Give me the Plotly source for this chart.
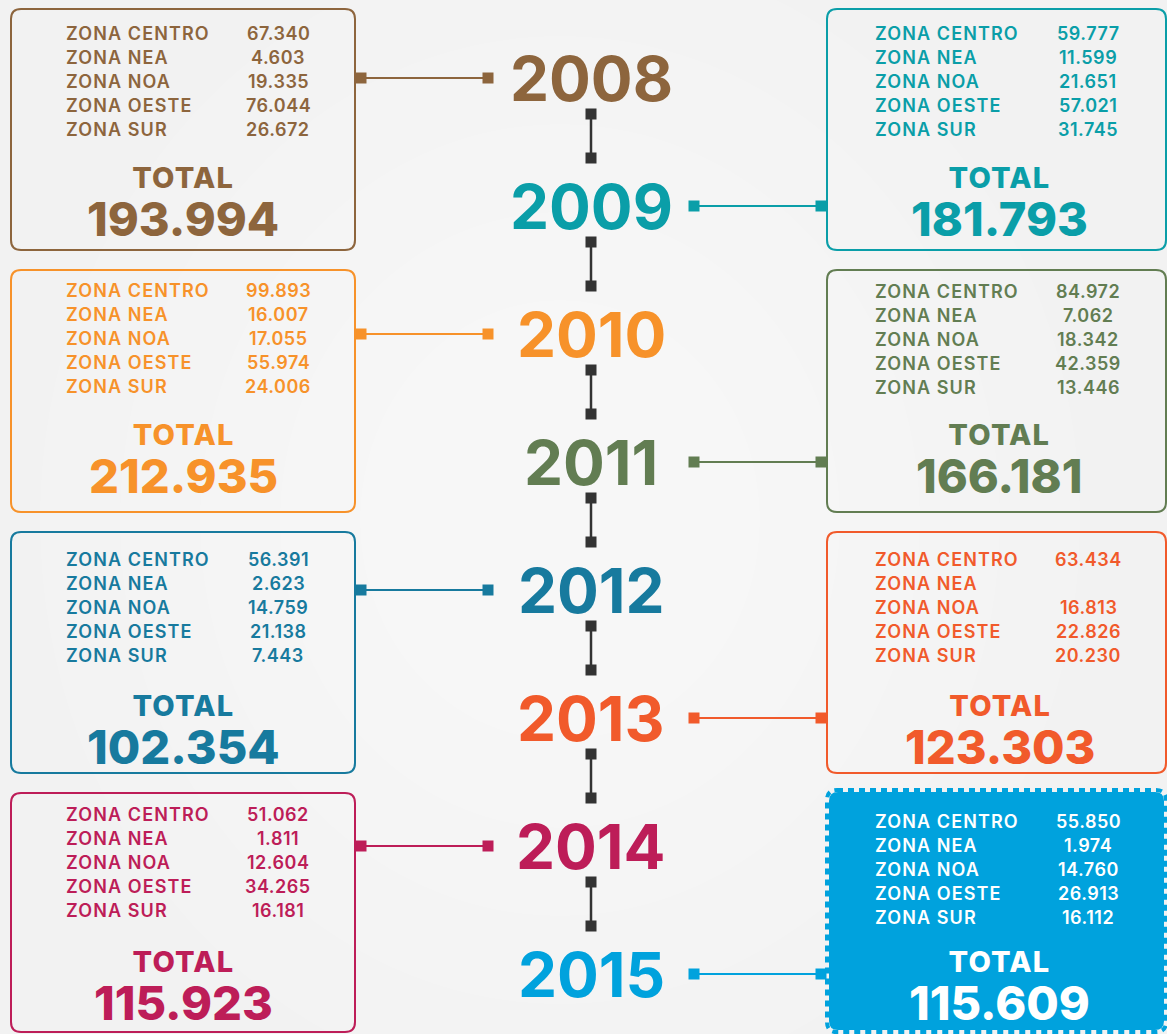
import plotly.graph_objects as go

# ---------------- data ----------------
years = ["2008", "2009", "2010", "2011", "2012", "2013", "2014", "2015"]
zones = ["ZONA CENTRO", "ZONA NEA", "ZONA NOA", "ZONA OESTE", "ZONA SUR"]
vals_2008 = [67340, 4603, 19335, 76044, 26672]
vals_2009 = [59777, 11599, 21651, 57021, 31745]
vals_2010 = [99893, 16007, 17055, 55974, 24006]
vals_2011 = [84972, 7062, 18342, 42359, 13446]
vals_2012 = [56391, 2623, 14759, 21138, 7443]
vals_2013 = [63434, None, 16813, 22826, 20230]
vals_2014 = [51062, 1811, 12604, 34265, 16181]
vals_2015 = [55850, 1974, 14760, 26913, 16112]
totals = [193994, 181793, 212935, 166181, 102354, 123303, 115923, 115609]
colors = ["#8D653D", "#0A9EA8", "#F7922A", "#627D52", "#177A9E", "#F15A2B", "#BD1D58", "#00A2DD"]
all_vals = [vals_2008, vals_2009, vals_2010, vals_2011, vals_2012, vals_2013, vals_2014, vals_2015]

# ---------------- layout (pixels) ----------------
W, H = 1167, 1034
LEFT_X = (11, 355)
RIGHT_X = (827, 1166)
box_y = [(9, 250), (9, 250), (270, 512), (270, 512), (532, 773), (532, 773), (793, 1032), (790, 1032)]
row0_y = [33, 33, 290, 291, 559, 559, 814, 821]
total_mid_y = [203, 203, 460, 460, 731, 731, 987, 987]
year_y = [78, 206, 334, 462, 590, 718, 846, 974]
YEAR_X = 591
DARK = "#333333"

FONT = "Inter, 'Open Sans', sans-serif"


def fmt(v):
    return "" if v is None else f"{v:,}".replace(",", ".")


def rrect(x0, y0, x1, y1, r=10):
    return (f"M {x0+r},{y0} L {x1-r},{y0} Q {x1},{y0} {x1},{y0+r} "
            f"L {x1},{y1-r} Q {x1},{y1} {x1-r},{y1} L {x0+r},{y1} "
            f"Q {x0},{y1} {x0},{y1-r} L {x0},{y0+r} Q {x0},{y0} {x0+r},{y0} Z")


fig = go.Figure()
fig.add_trace(go.Scatter(x=[0, W], y=[0, H], mode="markers", marker=dict(opacity=0),
                         hoverinfo="skip", showlegend=False))

shapes = []
annotations = []

# soft background glow
for i, r in enumerate([520, 440, 360, 280, 200]):
    shapes.append(dict(type="circle", xref="x", yref="y", x0=560 - r, x1=560 + r,
                       y0=520 - r * 1.1, y1=520 + r * 1.1, fillcolor="white",
                       opacity=0.12, line=dict(width=0), layer="below"))

# vertical connectors between years
for k in range(len(years) - 1):
    ya, yb = year_y[k] + 36, year_y[k] + 80
    shapes.append(dict(type="line", x0=YEAR_X, x1=YEAR_X, y0=ya, y1=yb,
                       line=dict(color=DARK, width=2.5)))
    for yy in (ya, yb):
        shapes.append(dict(type="rect", x0=YEAR_X - 5.5, x1=YEAR_X + 5.5, y0=yy - 5.5, y1=yy + 5.5,
                           fillcolor=DARK, line=dict(width=0)))

for k, yr in enumerate(years):
    c = colors[k]
    left = (k % 2 == 0)
    bx0, bx1 = LEFT_X if left else RIGHT_X
    by0, by1 = box_y[k]
    yy = year_y[k]

    # box
    if k == 7:
        shapes.append(dict(type="path", path=rrect(bx0 + 2, by0 + 2, bx1 - 2, by1 - 2, 9),
                           fillcolor=c, line=dict(width=0)))
        shapes.append(dict(type="path", path=rrect(bx0, by0, bx1, by1, 10),
                           line=dict(color=c, width=4, dash="6px,5px")))
        txt_c = "white"
    else:
        shapes.append(dict(type="path", path=rrect(bx0, by0, bx1, by1, 10),
                           line=dict(color=c, width=2)))
        txt_c = c

    # horizontal connector
    if left:
        xa, xb = 361, 488
    else:
        xa, xb = 694, 821
    shapes.append(dict(type="line", x0=xa, x1=xb, y0=yy, y1=yy, line=dict(color=c, width=2)))
    for xx in (xa, xb):
        shapes.append(dict(type="rect", x0=xx - 5.5, x1=xx + 5.5, y0=yy - 5.5, y1=yy + 5.5,
                           fillcolor=c, line=dict(width=0)))

    # year label
    annotations.append(dict(x=YEAR_X, y=yy, text=f"<b>{yr}</b>", showarrow=False,
                            xanchor="center", yanchor="middle",
                            font=dict(family=FONT, size=62, color=c, weight=800)))

    # zone rows
    lx = bx0 + 53 if left else bx0 + 46
    vx = bx0 + 267 if left else bx0 + 261
    for j, z in enumerate(zones):
        ry = row0_y[k] + 24 * j
        annotations.append(dict(x=lx, y=ry, text=f"<span style='letter-spacing:1.1px'>{z}</span>",
                                showarrow=False, xanchor="left", yanchor="middle",
                                font=dict(family=FONT, size=18, color=txt_c, weight=600)))
        annotations.append(dict(x=vx, y=ry, text=f"<span style='letter-spacing:0.5px'>{fmt(all_vals[k][j])}</span>",
                                showarrow=False, xanchor="center", yanchor="middle",
                                font=dict(family=FONT, size=18, color=txt_c, weight=600)))

    cx = (bx0 + bx1) / 2 if left else (bx0 + bx1) / 2 + 3
    total_txt = (f"<span style='font-size:29px;letter-spacing:1.2px'>TOTAL</span><br>"
                 f"<span style='font-size:47px'>{fmt(totals[k])}</span>")
    annotations.append(dict(x=cx, y=total_mid_y[k], text=total_txt, showarrow=False,
                            xanchor="center", yanchor="middle", align="center",
                            font=dict(family=FONT, size=37, color=txt_c, weight=800)))

fig.update_layout(
    width=W, height=H,
    margin=dict(l=0, r=0, t=0, b=0),
    paper_bgcolor="#F2F2F2", plot_bgcolor="#F2F2F2",
    xaxis=dict(range=[0, W], visible=False, fixedrange=True),
    yaxis=dict(range=[H, 0], visible=False, fixedrange=True),
    shapes=shapes, annotations=annotations, showlegend=False,
)
fig.write_html("out.html", config={"displayModeBar": False},
               post_script="document.body.style.margin='0';document.body.style.background='#F2F2F2';")
